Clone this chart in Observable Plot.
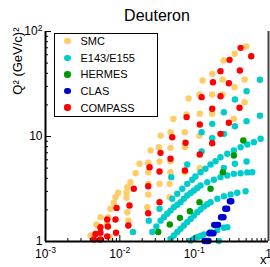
<!DOCTYPE html>
<html><head><meta charset="utf-8">
<script src="https://cdn.jsdelivr.net/npm/d3@7"></script>
<script src="https://cdn.jsdelivr.net/npm/@observablehq/plot@0.6"></script>
<style>
html,body{margin:0;padding:0;background:#fff;}
#chart{position:relative;width:270px;height:267px;font-family:"Liberation Sans",Arial,Helvetica,sans-serif;}
#legend{position:absolute;left:54px;top:33px;width:104px;height:84px;box-sizing:border-box;border:1.5px solid #000;background:#fff;}
.row{position:absolute;left:0;height:14px;font-size:11px;line-height:14px;color:#000;}
.mk{position:absolute;left:9.3px;top:3.8px;width:6.4px;height:6.4px;border-radius:50%;}
.lb{position:absolute;left:25.5px;top:0;white-space:nowrap;}
</style></head><body><div id="chart"></div>
<script>
// ---- data (x, Q^2 in (GeV/c)^2) ----
const seriesNames = ["SMC", "E143/E155", "HERMES", "CLAS", "COMPASS"];
const seriesColors = ["#ffcc66", "#00cccc", "#009900", "#0000cc", "#ff0000"];

const smc = [[0.502,71.9],[0.350,61.3],[0.249,52.9],[0.175,39.5],[0.130,34.2],[0.241,34.9],[0.350,29.5],[0.477,34.9],
[0.118,25.1],[0.175,25.1],[0.241,25.1],[0.0841,23.0],[0.477,21.2],[0.0524,14.7],[0.0791,16.2],[0.119,16.5],[0.175,16.5],
[0.342,14.7],[0.0353,10.2],[0.0481,11.0],[0.0750,11.0],[0.118,10.2],[0.175,9.72],[0.0259,7.36],[0.0335,7.91],[0.0481,7.80],
[0.0750,7.91],[0.0184,5.50],[0.0241,5.62],[0.0342,5.78],[0.0481,5.82],[0.0163,4.47],[0.0241,4.57],[0.0481,4.57],[0.0750,4.57],
[0.119,4.99],[0.0139,3.67],[0.0126,3.29],[0.00951,2.91],[0.0123,2.91],[0.00874,2.64],[0.0123,2.61],[0.00829,2.34],[0.00750,2.05],
[0.0126,1.90],[0.00549,1.70],[0.00698,1.70],[0.00485,1.45],[0.00676,1.47],[0.00403,1.14],[0.00732,1.10],[0.0130,1.58],
[0.0241,3.54],[0.0241,2.80],[0.0234,2.12],[0.0342,3.54],[0.0467,3.54],[0.0467,2.64],[0.0131,1.42],[0.00500,1.42]];

const e143 = [[0.766,34.7],[0.507,27.0],[0.353,22.5],[0.251,17.0],[0.766,15.8],[0.507,14.0],[0.353,12.5],[0.175,13.2],
[0.126,11.0],[0.251,10.6],[0.175,9.63],[0.126,7.20],[0.0807,5.41],[0.353,5.50],[0.507,5.78],[0.251,5.03],[0.0492,4.10],
[0.0342,2.05],[0.0245,1.58],[0.0150,1.23],[0.215,1.01]];
const e155a = [[0.0507,2.55],[0.0593,2.85],[0.0692,3.18],[0.0807,3.54],[0.0942,3.87],[0.104,4.16],[0.122,4.57],[0.142,4.93],
[0.166,5.41],[0.194,5.82],[0.226,6.35],[0.279,6.84],[0.342,7.36],[0.421,7.91],[0.519,8.39],[0.635,8.82],[0.783,9.51]];
const e155b = [[0.0273,1.23],[0.0310,1.39],[0.0353,1.58],[0.0391,1.70],[0.0435,1.84],[0.0481,1.97],[0.0533,2.12],[0.0593,2.24],
[0.0656,2.37],[0.0726,2.55],[0.0807,2.74],[0.0895,2.90],[0.0991,3.06],[0.110,3.23],[0.122,3.42],[0.150,3.67],[0.184,3.87],
[0.226,4.10],[0.279,4.25],[0.342,4.41],[0.421,4.47],[0.519,4.55],[0.605,4.57]];
const e155c = [[0.0481,1.06],[0.0533,1.14],[0.0593,1.23],[0.0656,1.32],[0.0726,1.42],[0.0807,1.53],[0.0895,1.64],[0.0991,1.77],
[0.110,1.90],[0.122,2.02],[0.135,2.15],[0.150,2.26],[0.166,2.37],[0.205,2.55],[0.251,2.70],[0.309,2.80],[0.380,2.91],[0.492,3.01]];
const e155d = [[0.0895,1.02],[0.0991,1.06],[0.110,1.10],[0.122,1.13],[0.135,1.17],[0.166,1.23],[0.205,1.29],[0.251,1.35],[0.279,1.37]];

const hermes = [[0.458,9.16],[0.342,6.59],[0.243,4.57],[0.166,3.18],[0.118,2.37],[0.0875,1.94],[0.0643,1.68],[0.047,1.45],[0.0329,1.23]];

const clas = [[0.302,2.42],[0.316,2.42],[0.262,2.05],[0.278,2.05],[0.230,1.70],[0.248,1.70],[0.186,1.44],[0.198,1.44],[0.210,1.44],
[0.160,1.20],[0.171,1.20],[0.182,1.20],[0.138,1.01],[0.147,1.01],[0.156,1.01]];

const compass = [[0.421,69.9],[0.586,58.2],[0.299,53.7],[0.226,41.9],[0.412,42.5],[0.179,32.9],[0.293,32.2],[0.126,23.7],
[0.226,24.2],[0.175,18.4],[0.408,18.8],[0.0791,15.3],[0.119,13.0],[0.293,13.5],[0.0507,9.85],[0.226,10.6],[0.0766,8.71],
[0.175,8.63],[0.0353,6.99],[0.119,6.74],[0.0481,6.13],[0.0251,5.10],[0.0342,4.64],[0.0750,4.75],[0.0154,3.18],[0.0241,3.36],
[0.0135,2.20],[0.00903,2.09],[0.0342,2.37],[0.0241,1.86],[0.00874,1.62],[0.00676,1.62],[0.0130,1.42],[0.0089,1.21],
[0.00676,1.12],[0.00549,1.21],[0.00471,1.18],[0.00447,1.045],[0.00549,1.045],[0.0069,1.39],[0.00549,1.37]];

const xMajor = [0.001, 0.01, 0.1, 1];
const xTickLabels = ["10^-3", "10^-2", "10^-1", "1"];
const yMajor = [1, 10, 100];
const yTickLabels = ["1", "10", "10^2"];
const xMinor = [2,3,4,5,6,7,8,9].flatMap(k => [k*0.001, k*0.01, k*0.1]);
const yMinor = [2,3,4,5,6,7,8,9].flatMap(k => [k, k*10]);

const titleText = "Deuteron";
const xLabel = "x";
const yLabel = "Q\u00b2 (GeV/c)\u00b2";

// ---- layout ----
const W = 270, H = 267, mL = 45, mR = 2, mT = 31, mB = 26;
const plotW = W - mL - mR, plotH = H - mT - mB;
const font = "'Liberation Sans', Arial, Helvetica, sans-serif";
const e155 = [...e155a, ...e155b, ...e155c, ...e155d];
const dotOpts = c => ({x: d => d[0], y: d => d[1], r: 3.2, fill: c});
const labelFor = (values, labels) => d => {
  let best = 0;
  values.forEach((v, i) => { if (Math.abs(Math.log10(v) - Math.log10(d)) < Math.abs(Math.log10(values[best]) - Math.log10(d))) best = i; });
  return labels[best];
};

const svg = Plot.plot({
  width: W, height: H, marginLeft: mL, marginRight: mR, marginTop: mT, marginBottom: mB,
  style: {fontFamily: font, fontSize: "12px", background: "white", color: "black"},
  x: {type: "log", domain: [1e-3, 1]},
  y: {type: "log", domain: [1, 100]},
  marks: [
    Plot.dot(smc, dotOpts(seriesColors[0])),
    Plot.dot(e143, dotOpts(seriesColors[1])),
    Plot.dot(e155, dotOpts(seriesColors[1])),
    Plot.dot(hermes, dotOpts(seriesColors[2])),
    Plot.dot(clas, dotOpts(seriesColors[3])),
    Plot.dot(compass, dotOpts(seriesColors[4])),
    Plot.tickX(xMajor, {x: d => d, insetTop: plotH - 6, stroke: "black"}),
    Plot.tickX(xMinor, {x: d => d, insetTop: plotH - 3, stroke: "black"}),
    Plot.tickY(yMajor, {y: d => d, insetRight: plotW - 6, stroke: "black"}),
    Plot.tickY(yMinor, {y: d => d, insetRight: plotW - 3, stroke: "black"}),
    Plot.ruleY([1], {strokeWidth: 2}),
    Plot.ruleX([1e-3], {strokeWidth: 2}),
    Plot.ruleX([1], {strokeWidth: 2, stroke: "#444"}),
    Plot.axisX(xMajor, {tickSize: 0, tickPadding: 8, fontSize: 12, label: null, tickFormat: labelFor(xMajor, xTickLabels)}),
    Plot.axisY(yMajor, {tickSize: 0, tickPadding: 3, fontSize: 12, label: null, tickFormat: labelFor(yMajor, yTickLabels)}),
    Plot.text([titleText], {text: d => d, frameAnchor: "top", lineAnchor: "bottom", dy: -10.3, fontSize: 16}),
    Plot.text([xLabel], {text: d => d, frameAnchor: "bottom-right", textAnchor: "end", lineAnchor: "bottom", dy: 22.5, dx: -2, fontSize: 13}),
    Plot.text([yLabel], {text: d => d, frameAnchor: "top-left", textAnchor: "end", rotate: -90, dx: -33, dy: -4, fontSize: 13})
  ]
});

// superscripts in tick labels (10^n)
d3.select(svg).selectAll("text").each(function() {
  const t = this.textContent;
  const i = t.indexOf("^");
  if (i < 0) return;
  const sel = d3.select(this);
  sel.text(null);
  sel.append("tspan").text(t.slice(0, i));
  sel.append("tspan").attr("dy", "-0.55em").attr("font-size", "0.72em").text(t.slice(i + 1));
});

const chart = document.getElementById("chart");
chart.appendChild(svg);

// legend
const legend = document.createElement("div");
legend.id = "legend";
seriesNames.forEach((name, i) => {
  const row = document.createElement("div");
  row.className = "row";
  row.style.top = (0.2 + 16.6 * i) + "px";
  const mk = document.createElement("span");
  mk.className = "mk";
  mk.style.background = seriesColors[i];
  const lb = document.createElement("span");
  lb.className = "lb";
  lb.textContent = name;
  row.appendChild(mk); row.appendChild(lb);
  legend.appendChild(row);
});
chart.appendChild(legend);
</script></body></html>
